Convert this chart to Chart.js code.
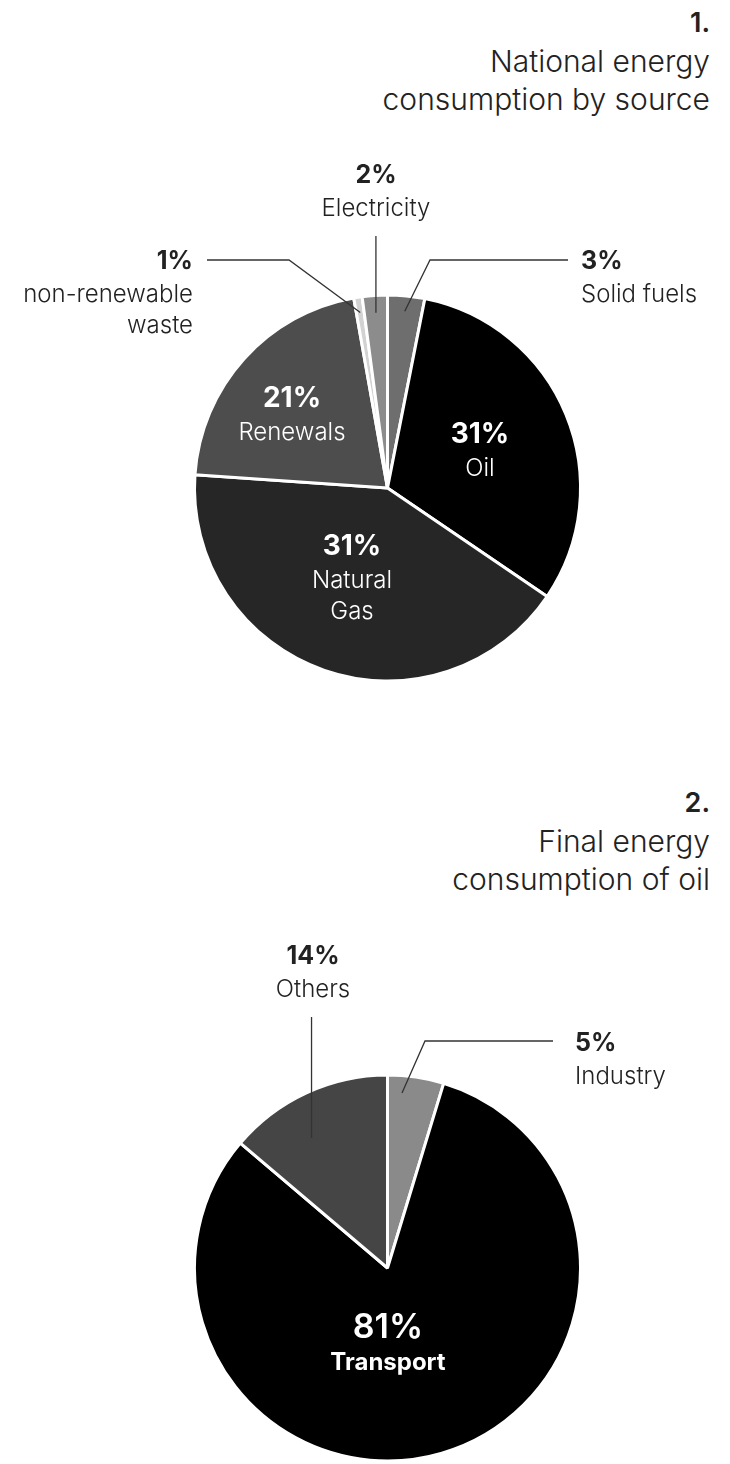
<!DOCTYPE html>
<html>
<head>
<meta charset="utf-8">
<script src="https://cdn.jsdelivr.net/npm/chart.js@4"></script>
<style>
  html, body { margin: 0; padding: 0; background: #fff; }
  body { width: 730px; height: 1464px; position: relative; overflow: hidden; font-family: Inter, "Noto Sans", sans-serif; color: #222; }
  .t { position: absolute; right: 20px; white-space: nowrap; text-align: right; }
  .num { font-size: 27px; font-weight: 600; line-height: 32px; }
  .ttl { font-size: 30px; font-weight: 300; line-height: 38px; }
  .box { position: absolute; left: 0; width: 730px; }
</style>
</head>
<body>
<div class="t num" style="top:7px">1.</div>
<div class="t ttl" style="top:42px">National energy<br>consumption by source</div>
<div class="box" style="top:150px;height:600px"><canvas id="sourceChart"></canvas></div>

<div class="t num" style="top:787px">2.</div>
<div class="t ttl" style="top:822px">Final energy<br>consumption of oil</div>
<div class="box" style="top:930px;height:534px"><canvas id="oilChart"></canvas></div>

<script>
// chart 1: national energy consumption by source
const sourceLabels = ['Solid fuels', 'Oil', 'Natural Gas', 'Renewals', 'non-renewable waste', 'Electricity'];
const sourceShares = [3.1, 31.4, 41.6, 21.1, 0.7, 2.1];
const sourcePct = ['3%', '31%', '31%', '21%', '1%', '2%'];
const sourceColors = ['#6e6e6e', '#000000', '#262626', '#4d4d4d', '#d2d2d2', '#8c8c8c'];

// chart 2: final energy consumption of oil
const oilLabels = ['Industry', 'Transport', 'Others'];
const oilShares = [4.7, 81.5, 13.8];
const oilPct = ['5%', '81%', '14%'];
const oilColors = ['#8a8a8a', '#000000', '#454545'];

// label placement, relative to pie centre
const sourceLayout = [
  { i: 0, t: 0.5, r: 0.92, elbow: [42.5, -228], endX: 180.5, x: 193.5, y: -219, align: 'left' },
  { i: 5, t: 0.5, r: 0.91, upTo: -252, x: -11.5, y: -305, align: 'center' },
  { i: 4, t: 0.5, r: 0.92, elbow: [-98.5, -228], endX: -180.5, x: -194.5, y: -219, align: 'right', wrap: true },
  { i: 3, inside: true, x: -95.5, y: -81, align: 'center' },
  { i: 1, inside: true, x: 92.5, y: -45, align: 'center' },
  { i: 2, inside: true, x: -35.5, y: 67, align: 'center', wrap: true, gap: 31 }
];
const oilLayout = [
  { i: 0, t: 0.28, r: 0.91, elbow: [37.5, -227], endX: 165.5, x: 187.5, y: -217, align: 'left' },
  { i: 2, t: 0.39, r: 0.78, upTo: -251, x: -74.5, y: -304, align: 'center' },
  { i: 1, inside: true, x: 0.5, y: 70, align: 'center', big: true }
];

const callouts = {
  id: 'callouts',
  afterDatasetsDraw(chart, args, opts) {
    const ctx = chart.ctx;
    const arcs = chart.getDatasetMeta(0).data;
    const labels = chart.data.labels;
    ctx.save();
    opts.layout.forEach(item => {
      const arc = arcs[item.i];
      const p = arc.getProps(['x', 'y', 'startAngle', 'endAngle', 'outerRadius'], true);
      const cx = p.x, cy = p.y;
      if (!item.inside) {
        const a = p.startAngle + (p.endAngle - p.startAngle) * item.t;
        const ax = cx + Math.cos(a) * p.outerRadius * item.r;
        const ay = cy + Math.sin(a) * p.outerRadius * item.r;
        ctx.strokeStyle = '#333';
        ctx.lineWidth = 1.3;
        ctx.beginPath();
        ctx.moveTo(ax, ay);
        if (item.upTo !== undefined) {
          ctx.lineTo(ax, cy + item.upTo);
        } else {
          ctx.lineTo(cx + item.elbow[0], cy + item.elbow[1]);
          ctx.lineTo(cx + item.endX, cy + item.elbow[1]);
        }
        ctx.stroke();
      }
      const color = item.inside ? '#fff' : '#222';
      const tx = cx + item.x;
      let ty = cy + item.y;
      ctx.fillStyle = color;
      ctx.textAlign = item.align;
      ctx.textBaseline = 'alphabetic';
      if (item.big) ctx.font = '600 34px Inter, "Noto Sans", sans-serif';
      else if (item.inside) ctx.font = '700 28px Inter, "Noto Sans", sans-serif';
      else ctx.font = '700 25px Inter, "Noto Sans", sans-serif';
      ctx.fillText(opts.pct[item.i], tx, ty);
      const name = labels[item.i];
      let lines = [name];
      if (item.wrap) {
        const k = name.indexOf(' ');
        lines = [name.slice(0, k), name.slice(k + 1)];
      }
      ctx.font = item.big ? '700 24px Inter, "Noto Sans", sans-serif' : '300 24px Inter, "Noto Sans", sans-serif';
      ty += item.big ? 32 : 33;
      lines.forEach((ln, n) => {
        ctx.fillText(ln, tx, ty + n * (item.gap || 31));
      });
    });
    ctx.restore();
  }
};

function makePie(id, labels, values, colors, pct, layout, padTop) {
  return new Chart(document.getElementById(id), {
    type: 'pie',
    data: {
      labels: labels,
      datasets: [{
        data: values,
        backgroundColor: colors,
        borderColor: '#ffffff',
        borderWidth: 3
      }]
    },
    options: {
      responsive: true,
      maintainAspectRatio: false,
      animation: false,
      radius: 193,
      layout: { padding: { left: 45, top: padTop, right: 0, bottom: 0 } },
      plugins: {
        legend: { display: false },
        tooltip: { enabled: false },
        callouts: { layout: layout, pct: pct }
      }
    },
    plugins: [callouts]
  });
}

makePie('sourceChart', sourceLabels, sourceShares, sourceColors, sourcePct, sourceLayout, 76);
makePie('oilChart', oilLabels, oilShares, oilColors, oilPct, oilLayout, 142);
</script>
</body>
</html>
